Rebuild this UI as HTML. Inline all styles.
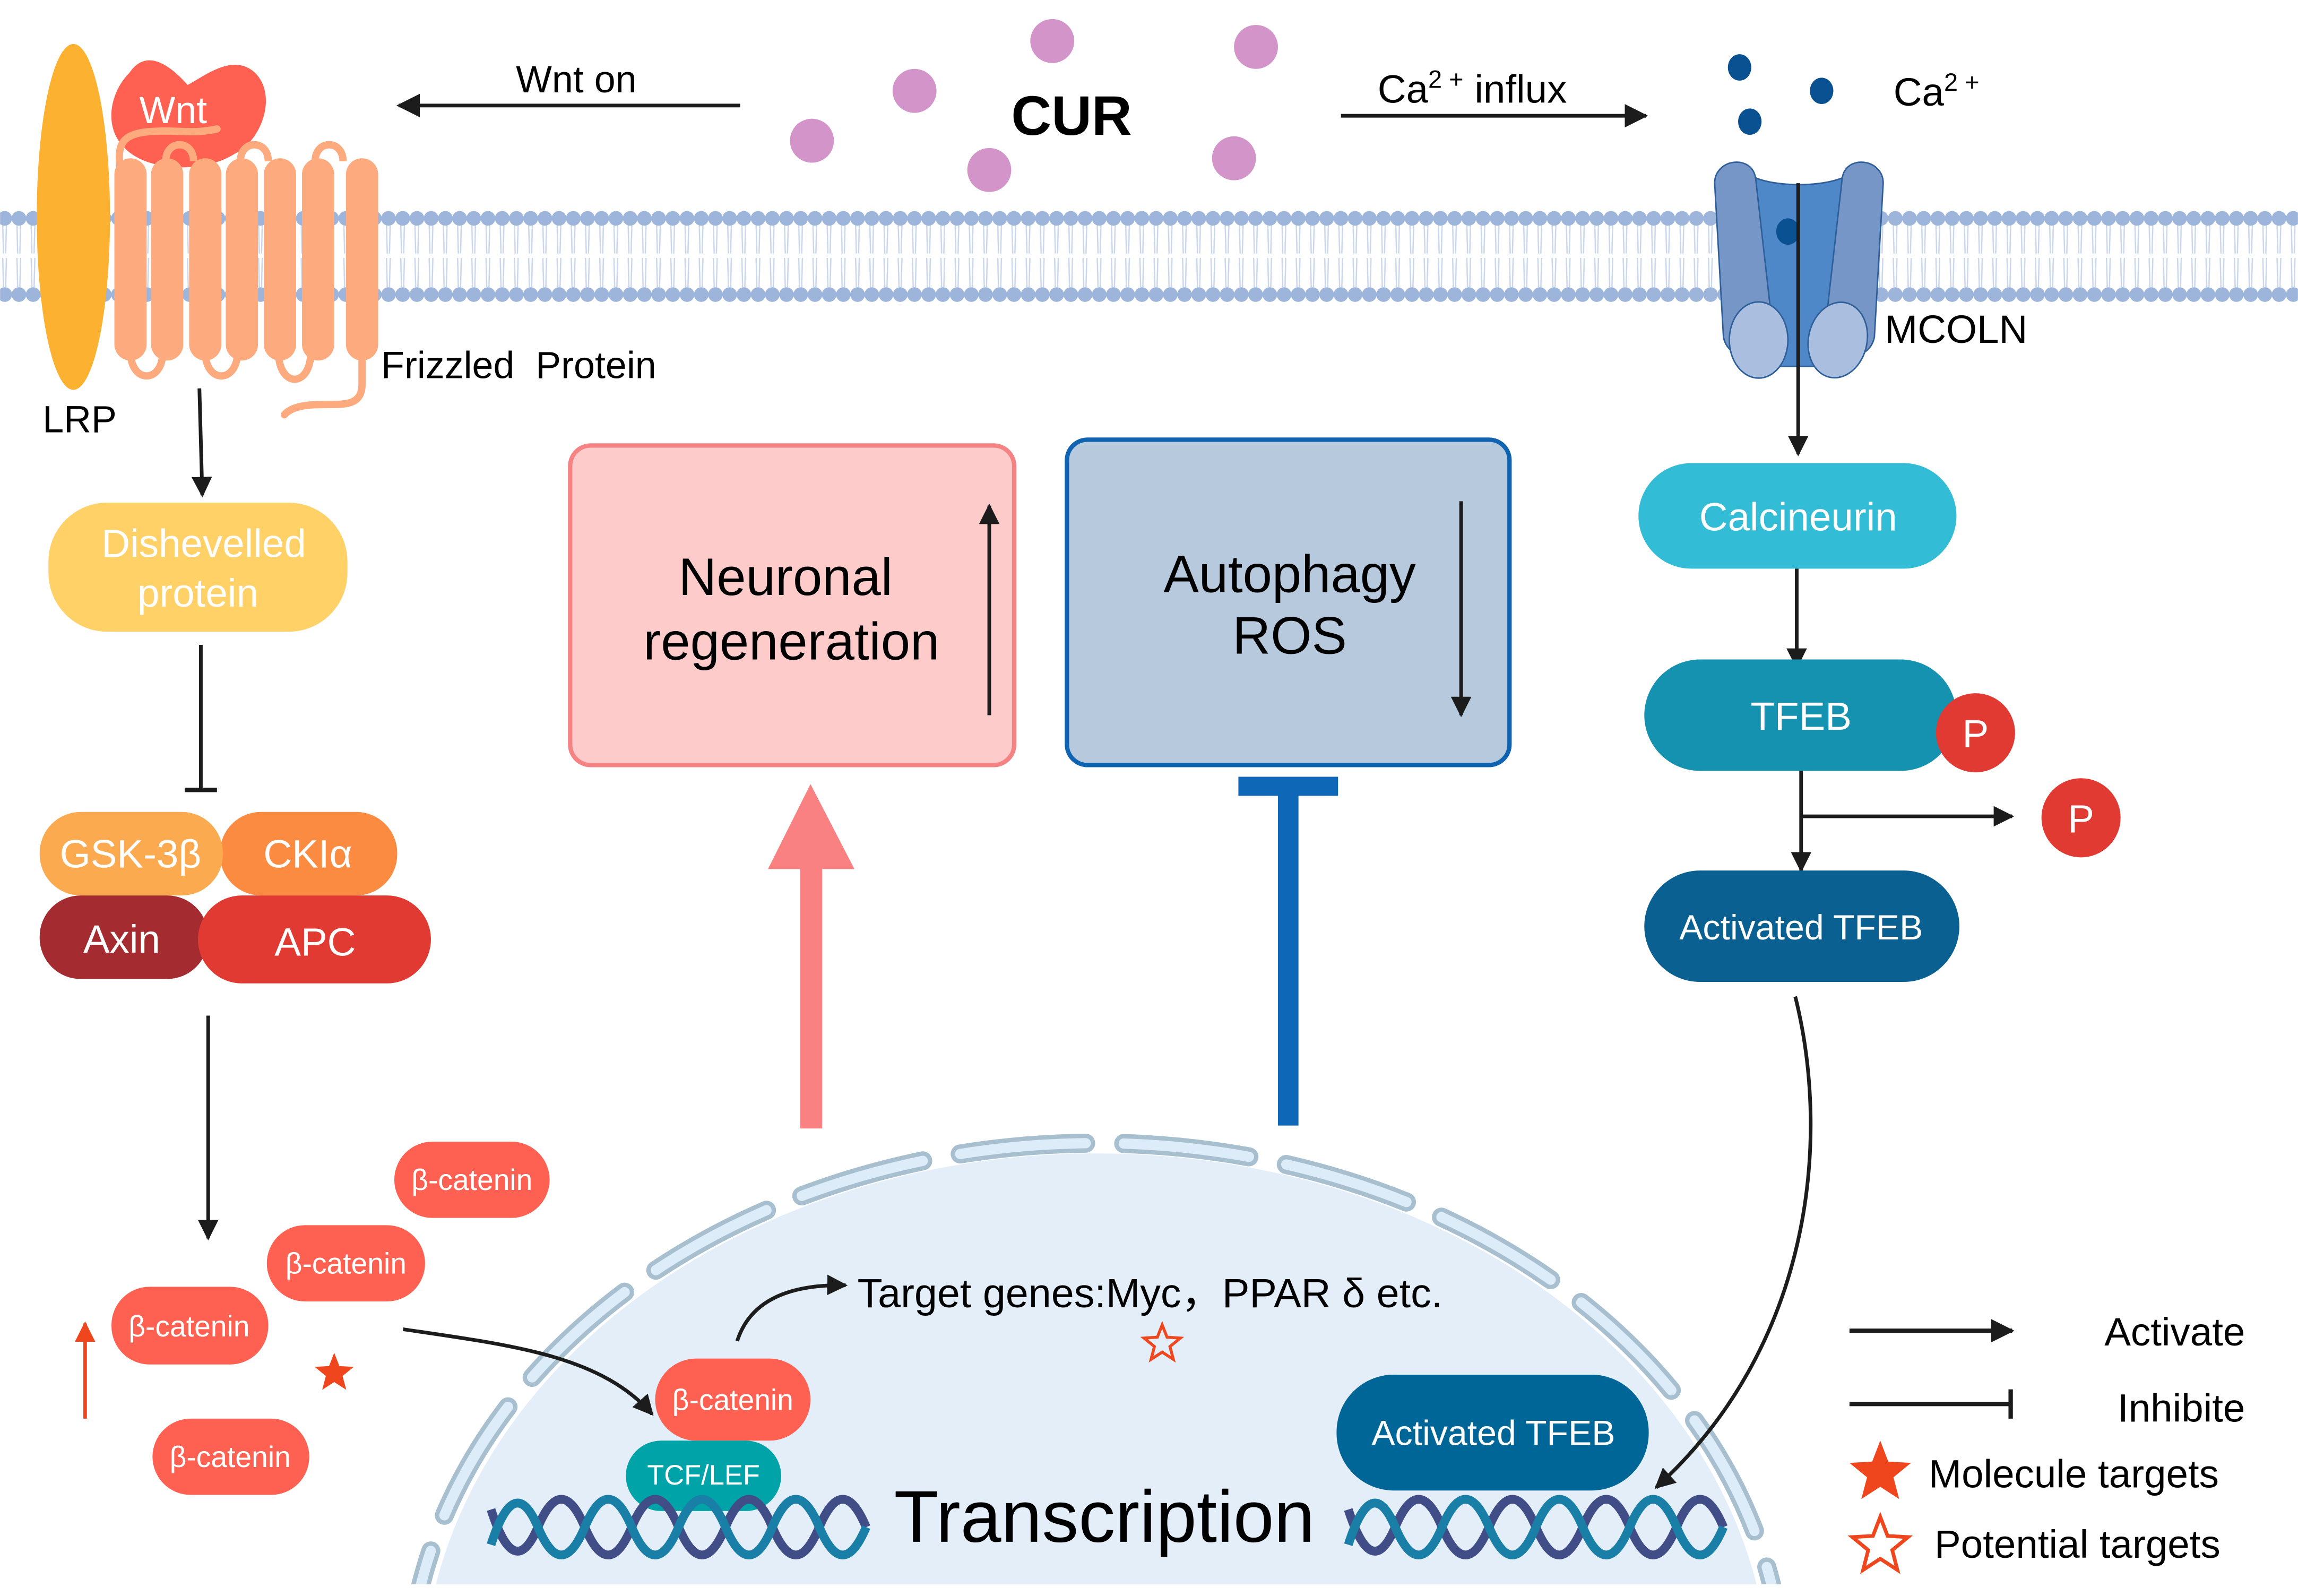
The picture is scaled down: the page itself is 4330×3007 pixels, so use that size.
<!DOCTYPE html>
<html><head><meta charset="utf-8"><style>
html,body{margin:0;padding:0;background:#fff;width:4330px;height:3007px;overflow:hidden;}
svg{display:block;}
text{font-family:"Liberation Sans",Arial,sans-serif;}
</style></head><body>
<svg width="4330" height="3007" viewBox="0 0 1568 1089" xmlns="http://www.w3.org/2000/svg">
<defs>
<marker id="ah" viewBox="0 0 10 10" refX="9" refY="5" markerWidth="14" markerHeight="14" orient="auto" markerUnits="userSpaceOnUse">
<path d="M0,0 L10,5 L0,10 z" fill="#1c1c1c"/></marker>
<marker id="ah2" viewBox="0 0 10 10" refX="9" refY="5" markerWidth="16" markerHeight="16" orient="auto" markerUnits="userSpaceOnUse">
<path d="M0,0 L10,5 L0,10 z" fill="#1c1c1c"/></marker>
<marker id="ahr" viewBox="0 0 10 10" refX="9" refY="5" markerWidth="14" markerHeight="14" orient="auto" markerUnits="userSpaceOnUse">
<path d="M0,0 L10,5 L0,10 z" fill="#f0461e"/></marker>
<pattern id="mem" x="8" y="0" width="9.7" height="1089" patternUnits="userSpaceOnUse">
<path d="M3.5,153 L4,173 M6,153 L5.5,173 M3.5,176 L4,196 M6,176 L5.5,196" stroke="#c9d6ec" stroke-width="0.9" fill="none"/>
<circle cx="4.85" cy="149" r="5" fill="#9db5da"/>
<circle cx="4.85" cy="201" r="5" fill="#9db5da"/>
</pattern>
<clipPath id="nc"><rect x="0" y="0" width="1568" height="1081"/></clipPath>
</defs>

<rect x="0" y="140" width="1568" height="70" fill="url(#mem)"/>

<ellipse cx="50" cy="148" rx="25" ry="118" fill="#fcb131"/>
<path d="M88,50 C98,35 112,40 128,58 C142,50 158,38 172,48 C190,62 180,95 160,105 C140,118 100,118 84,100 C70,85 76,62 88,50 z" fill="#fe6151"/>
<text x="95" y="84" font-size="26" fill="#fff">Wnt</text>
<path d="M82,115 C80,100 82,92 100,90 C120,88 130,92 148,88" stroke="#fdab7e" stroke-width="5" fill="none" stroke-linecap="round"/>
<g fill="none" stroke="#fdab7e" stroke-width="5">
<path d="M113,110 C113,95 132,95 132,110"/>
<path d="M164,110 C164,95 183,95 183,110"/>
<path d="M215,110 C215,95 234,95 234,110"/>
<path d="M89,240 C89,262 111,262 111,240"/>
<path d="M140,240 C140,262 162,262 162,240"/>
<path d="M190,240 C190,265 212,265 212,240"/>
<path d="M247,240 L247,262 C247,275 238,276 226,276 C213,276 200,276 194,283" stroke-linecap="round"/>
</g>
<g fill="#fdab7e">
<rect x="78" y="108" width="22" height="138" rx="11"/>
<rect x="103" y="108" width="22" height="138" rx="11"/>
<rect x="129" y="108" width="22" height="138" rx="11"/>
<rect x="154" y="108" width="22" height="138" rx="11"/>
<rect x="180" y="108" width="22" height="138" rx="11"/>
<rect x="206" y="108" width="22" height="138" rx="11"/>
<rect x="236" y="108" width="22" height="138" rx="11"/>
</g>
<text x="260" y="258" font-size="26" fill="#000">Frizzled&#160;&#160;Protein</text>
<text x="29" y="295" font-size="26" fill="#000">LRP</text>

<line x1="505" y1="72" x2="272" y2="72" stroke="#1c1c1c" stroke-width="2.5" marker-end="url(#ah2)"/>
<text x="352" y="63" font-size="26">Wnt on</text>
<g fill="#d394c9">
<circle cx="718" cy="28" r="15"/><circle cx="857" cy="32" r="15"/><circle cx="624" cy="62" r="15"/>
<circle cx="554" cy="96" r="15"/><circle cx="675" cy="116" r="15"/><circle cx="842" cy="108" r="15"/>
</g>
<text x="690" y="92" font-size="38" font-weight="bold">CUR</text>
<line x1="915" y1="79" x2="1123" y2="79" stroke="#1c1c1c" stroke-width="2.5" marker-end="url(#ah2)"/>
<text x="940" y="70" font-size="27">Ca<tspan font-size="17" dy="-10">2 +</tspan><tspan dy="10"> influx</tspan></text>

<g fill="#0a5191">
<ellipse cx="1187" cy="46" rx="8" ry="9"/><ellipse cx="1194" cy="83" rx="8" ry="9"/><ellipse cx="1243" cy="62" rx="8" ry="9"/>
</g>
<text x="1292" y="72" font-size="27">Ca<tspan font-size="17" dy="-10">2 +</tspan></text>
<path d="M1195,120 C1210,128 1245,128 1260,120 L1262,250 L1198,250 z" fill="#4f88c9" stroke="#2f5f99" stroke-width="1"/>
<path d="M1170,125 C1170,108 1196,105 1198,122 L1210,228 C1212,246 1180,250 1176,230 z" fill="#7796c8" stroke="#2f5f99" stroke-width="1"/>
<path d="M1285,125 C1285,108 1259,105 1257,122 L1245,228 C1243,246 1275,250 1279,230 z" fill="#7796c8" stroke="#2f5f99" stroke-width="1"/>
<ellipse cx="1200" cy="232" rx="20" ry="26" fill="#aabfe0" stroke="#2f5f99" stroke-width="1"/>
<ellipse cx="1254" cy="232" rx="20" ry="26" fill="#aabfe0" stroke="#2f5f99" stroke-width="1" transform="rotate(12 1254 232)"/>
<ellipse cx="1220" cy="158" rx="8" ry="9" fill="#0a5191"/>
<line x1="1227" y1="125" x2="1227" y2="310" stroke="#1c1c1c" stroke-width="2.5" marker-end="url(#ah)"/>
<text x="1286" y="234" font-size="27">MCOLN</text>

<rect x="1118" y="316" width="217" height="72" rx="36" fill="#33bcd6"/>
<text x="1227" y="362" font-size="27" fill="#fff" text-anchor="middle">Calcineurin</text>
<line x1="1226" y1="388" x2="1226" y2="455" stroke="#1c1c1c" stroke-width="2.5" marker-end="url(#ah)"/>
<rect x="1122" y="450" width="213" height="76" rx="38" fill="#1592b0"/>
<text x="1229" y="498" font-size="27" fill="#fff" text-anchor="middle">TFEB</text>
<circle cx="1348" cy="500" r="27" fill="#e03a33"/>
<text x="1348" y="510" font-size="27" fill="#fff" text-anchor="middle">P</text>
<line x1="1229" y1="526" x2="1229" y2="594" stroke="#1c1c1c" stroke-width="2.5" marker-end="url(#ah)"/>
<line x1="1229" y1="557" x2="1373" y2="557" stroke="#1c1c1c" stroke-width="2.5" marker-end="url(#ah)"/>
<circle cx="1420" cy="558" r="27" fill="#e03a33"/>
<text x="1420" y="568" font-size="27" fill="#fff" text-anchor="middle">P</text>
<rect x="1122" y="594" width="215" height="76" rx="38" fill="#0a6090"/>
<text x="1229" y="641" font-size="24" fill="#fff" text-anchor="middle">Activated TFEB</text>

<rect x="389" y="304" width="303" height="218" rx="14" fill="#fecbcb" stroke="#f68383" stroke-width="3"/>
<text x="536" y="406" font-size="36" text-anchor="middle">Neuronal</text>
<text x="540" y="450" font-size="36" text-anchor="middle">regeneration</text>
<line x1="675" y1="488" x2="675" y2="345" stroke="#1c1c1c" stroke-width="2.5" marker-end="url(#ah)"/>
<rect x="728" y="300" width="302" height="222" rx="14" fill="#b7c9dc" stroke="#0f63b0" stroke-width="3"/>
<text x="880" y="404" font-size="36" text-anchor="middle">Autophagy</text>
<text x="880" y="446" font-size="36" text-anchor="middle">ROS</text>
<line x1="997" y1="342" x2="997" y2="488" stroke="#1c1c1c" stroke-width="2.5" marker-end="url(#ah)"/>
<path d="M524,593 L553,535 L583,593 L561,593 L561,770 L546,770 L546,593 z" fill="#f98181"/>
<rect x="845" y="530" width="68" height="13" fill="#0f68b7"/>
<rect x="872" y="540" width="14" height="228" fill="#0f68b7"/>

<line x1="136" y1="265" x2="138" y2="338" stroke="#1c1c1c" stroke-width="2.5" marker-end="url(#ah)"/>
<rect x="33" y="343" width="204" height="88" rx="40" fill="#ffd167"/>
<text x="139" y="380" font-size="27" fill="#fff" text-anchor="middle">Dishevelled</text>
<text x="135" y="414" font-size="27" fill="#fff" text-anchor="middle">protein</text>
<line x1="137" y1="440" x2="137" y2="538" stroke="#1c1c1c" stroke-width="2.5"/>
<line x1="126" y1="539" x2="148" y2="539" stroke="#1c1c1c" stroke-width="3"/>
<rect x="150" y="554" width="121" height="57" rx="28" fill="#fc8b42"/>
<rect x="27" y="554" width="125" height="57" rx="28" fill="#fcaa4f"/>
<text x="89" y="592" font-size="27" fill="#fff" text-anchor="middle">GSK-3β</text>
<text x="210" y="592" font-size="27" fill="#fff" text-anchor="middle">CKIα</text>
<rect x="27" y="611" width="115" height="57" rx="28" fill="#a42b2f"/>
<rect x="135" y="611" width="159" height="60" rx="30" fill="#e03a33"/>
<text x="83" y="650" font-size="27" fill="#fff" text-anchor="middle">Axin</text>
<text x="215" y="652" font-size="27" fill="#fff" text-anchor="middle">APC</text>
<line x1="142" y1="693" x2="142" y2="845" stroke="#1c1c1c" stroke-width="2.5" marker-end="url(#ah)"/>
<g fill="#fe6151">
<rect x="269" y="779" width="106" height="52" rx="26"/>
<rect x="182" y="836" width="108" height="52" rx="26"/>
<rect x="76" y="878" width="107" height="53" rx="26"/>
<rect x="104" y="968" width="107" height="52" rx="26"/>
</g>
<g font-size="20" fill="#fff" text-anchor="middle">
<text x="322" y="812">β-catenin</text>
<text x="236" y="869">β-catenin</text>
<text x="129" y="912">β-catenin</text>
<text x="157" y="1001">β-catenin</text>
</g>
<line x1="58" y1="968" x2="58" y2="903" stroke="#f0461e" stroke-width="2.5" marker-end="url(#ahr)"/>
<polygon transform="translate(228,937)" points="0,-14 3.5,-4.9 13.3,-4.3 5.7,1.9 8.2,11.3 0,6 -8.2,11.3 -5.7,1.9 -13.3,-4.3 -3.5,-4.9" fill="#f0461e"/>

<g clip-path="url(#nc)">
<ellipse cx="748" cy="1155" rx="460" ry="368" fill="#e3eef9"/>
<ellipse cx="748" cy="1155" rx="470" ry="375" fill="none" stroke="#a7bfcf" stroke-width="13" stroke-dasharray="86 26" stroke-linecap="round"/>
<ellipse cx="748" cy="1155" rx="470" ry="375" fill="none" stroke="#dcecf8" stroke-width="7" stroke-dasharray="86 26" stroke-linecap="round"/>
</g>
<path d="M1225,680 C1250,780 1235,920 1130,1015" stroke="#1c1c1c" stroke-width="2.5" fill="none" marker-end="url(#ah)"/>
<path d="M275,907 C350,918 410,925 445,965" stroke="#1c1c1c" stroke-width="2.5" fill="none" marker-end="url(#ah)"/>
<rect x="447" y="927" width="106" height="56" rx="28" fill="#fe6151"/>
<text x="500" y="962" font-size="20" fill="#fff" text-anchor="middle">β-catenin</text>
<rect x="427" y="983" width="106" height="48" rx="24" fill="#00a3a7"/>
<text x="480" y="1013" font-size="19" fill="#fff" text-anchor="middle">TCF/LEF</text>
<path d="M503,915 C510,893 530,876 577,877" stroke="#1c1c1c" stroke-width="2.5" fill="none" marker-end="url(#ah)"/>
<text x="585" y="892" font-size="28">Target genes:Myc，PPAR δ etc.</text>
<polygon transform="translate(793,917)" points="0,-13 3.3,-4.6 12.4,-4 5.3,1.8 7.6,10.5 0,5.6 -7.6,10.5 -5.3,1.8 -12.4,-4 -3.3,-4.6" fill="none" stroke="#f0461e" stroke-width="2"/>
<rect x="912" y="938" width="213" height="79" rx="39" fill="#006597"/>
<text x="1019" y="986" font-size="24" fill="#fff" text-anchor="middle">Activated TFEB</text>
<g fill="none" stroke-width="6">
<path d="M335,1030 Q351,1080 367,1042 T399,1042 T431,1042 T463,1042 T495,1042 T527,1042 T559,1042 T591,1042" stroke="#414d87"/>
<path d="M335,1054 Q351,1004 367,1042 T399,1042 T431,1042 T463,1042 T495,1042 T527,1042 T559,1042 T591,1042" stroke="#1a7fa7"/>
<path d="M920,1030 Q936,1080 952,1042 T984,1042 T1016,1042 T1048,1042 T1080,1042 T1112,1042 T1144,1042 T1176,1042" stroke="#414d87"/>
<path d="M920,1054 Q936,1004 952,1042 T984,1042 T1016,1042 T1048,1042 T1080,1042 T1112,1042 T1144,1042 T1176,1042" stroke="#1a7fa7"/>
</g>
<text x="610" y="1052" font-size="50">Transcription</text>

<line x1="1262" y1="908" x2="1373" y2="908" stroke="#1c1c1c" stroke-width="3" marker-end="url(#ah2)"/>
<text x="1532" y="918" font-size="27" text-anchor="end">Activate</text>
<line x1="1262" y1="958" x2="1373" y2="958" stroke="#1c1c1c" stroke-width="3"/>
<line x1="1372" y1="948" x2="1372" y2="968" stroke="#1c1c1c" stroke-width="3"/>
<text x="1532" y="970" font-size="27" text-anchor="end">Inhibite</text>
<polygon transform="translate(1283,1005)" points="0,-22 5.5,-7.7 21,-6.8 9,3 12.9,17.8 0,9.5 -12.9,17.8 -9,3 -21,-6.8 -5.5,-7.7" fill="#f0461e"/>
<text x="1316" y="1015" font-size="27">Molecule targets</text>
<polygon transform="translate(1283,1055)" points="0,-20 5,-7 19,-6.2 8.2,2.7 11.7,16.2 0,8.6 -11.7,16.2 -8.2,2.7 -19,-6.2 -5,-7" fill="none" stroke="#f0461e" stroke-width="2.5"/>
<text x="1320" y="1063" font-size="27">Potential targets</text>
</svg>
</body></html>
